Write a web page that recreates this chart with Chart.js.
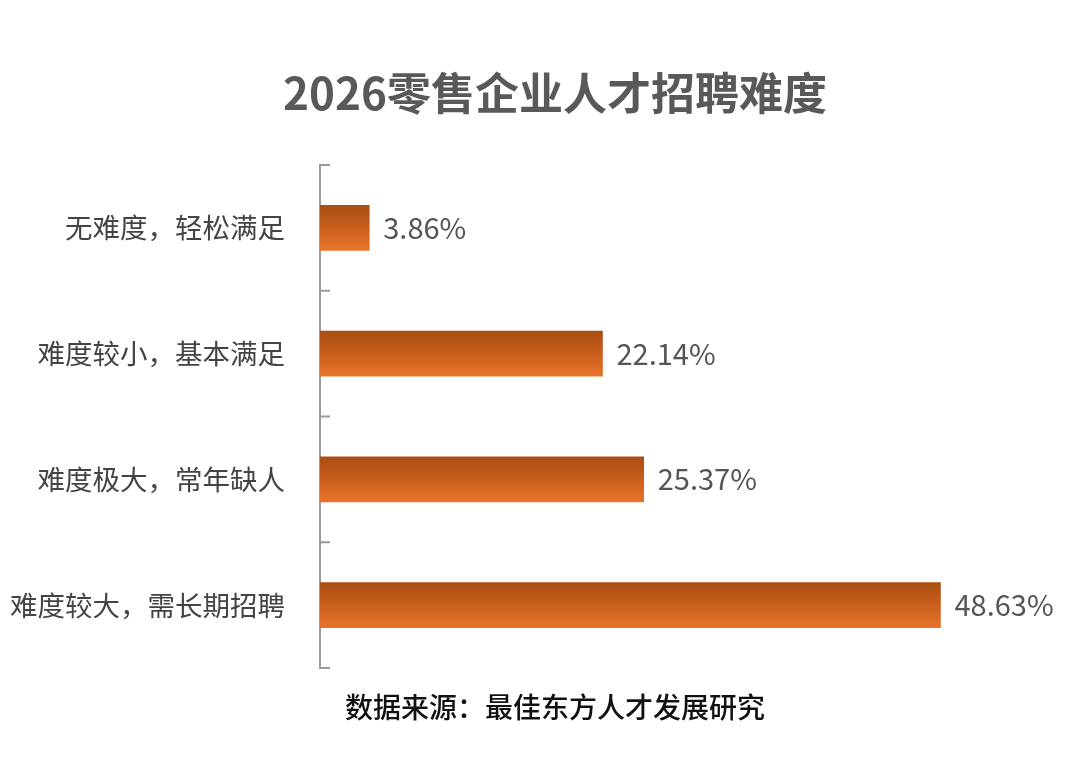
<!DOCTYPE html>
<html><head><meta charset="utf-8">
<script src="https://cdn.jsdelivr.net/npm/chart.js@4"></script>
<style>html,body{margin:0;padding:0;background:#fff}#w{width:1080px;height:761px}</style>
</head><body><div id="w"><canvas id="c"></canvas></div>
<script>
const categories = ["无难度，轻松满足","难度较小，基本满足","难度极大，常年缺人","难度较大，需长期招聘"];
const values = [3.86, 22.14, 25.37, 48.63];
const labels = ["3.86%","22.14%","25.37%","48.63%"];
const FONT = '"Noto Sans CJK SC","Noto Sans",sans-serif';
const THICK = 45;
function barColor(ctx){
  const ch = ctx.chart, ys = ch.scales.y;
  if(!ys || !ch.chartArea) return '#D9651F';
  const yc = ys.getPixelForValue(ctx.dataIndex);
  const g = ch.ctx.createLinearGradient(0, yc - THICK/2, 0, yc + THICK/2);
  g.addColorStop(0, '#A94E12');
  g.addColorStop(0.45, '#C65C1B');
  g.addColorStop(1, '#E8742A');
  return g;
}
const deco = {
  id:'deco',
  afterDraw(ch){
    const c = ch.ctx, ys = ch.scales.y, xs = ch.scales.x, a = ch.chartArea;
    c.save();
    c.strokeStyle = '#9a9a9a'; c.lineWidth = 2;
    const step = (a.bottom - a.top)/categories.length;
    for(let i=0;i<=categories.length;i++){
      const y = a.top + i*step;
      c.beginPath(); c.moveTo(a.left, y); c.lineTo(a.left+10, y); c.stroke();
    }
    c.fillStyle = '#555'; c.font = '29px ' + FONT; c.textBaseline = 'middle'; c.textAlign = 'left';
    values.forEach((v,i)=>{ c.fillText(labels[i], xs.getPixelForValue(v)+14, ys.getPixelForValue(i)); });
    c.textAlign = 'center';
    c.fillStyle = '#595959'; c.font = 'bold 44px ' + FONT;
    c.fillText('2026零售企业人才招聘难度', 555, 93);
    c.fillStyle = '#111'; c.font = '500 28px ' + FONT;
    c.fillText('数据来源：最佳东方人才发展研究', 555, 707);
    c.restore();
  }
};
new Chart(document.getElementById('c'), {
  type:'bar',
  data:{labels:categories, datasets:[{data:values, backgroundColor:barColor, barThickness:THICK, borderWidth:0}]},
  options:{
    indexAxis:'y', responsive:true, maintainAspectRatio:false, animation:false,
    layout:{padding:{top:165, bottom:93, left:0, right:20}},
    plugins:{legend:{display:false}, tooltip:{enabled:false}},
    scales:{
      x:{display:false, min:0, max:58},
      y:{
        afterFit(s){ s.width = 320; },
        grid:{display:false},
        border:{display:true, color:'#9a9a9a', width:2},
        ticks:{color:'#444', font:{size:27.5, family:FONT}, padding:27}
      }
    }
  },
  plugins:[deco]
});
</script></body></html>
